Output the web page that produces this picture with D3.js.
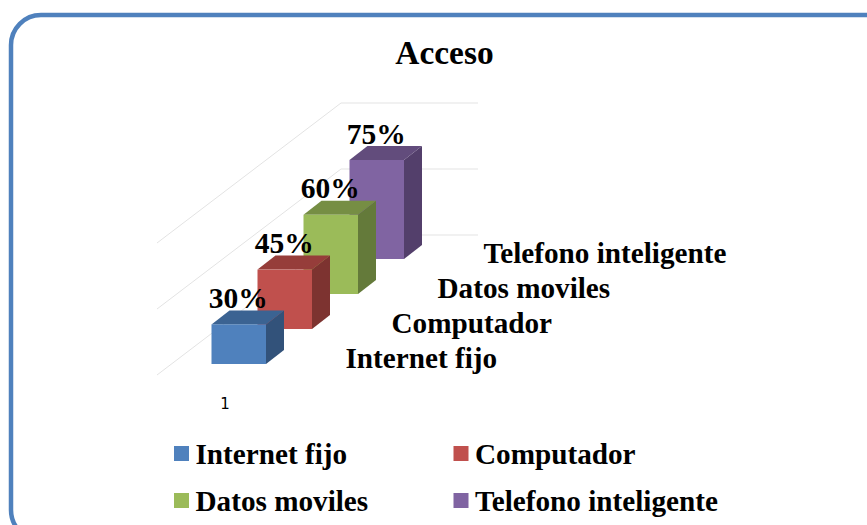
<!DOCTYPE html>
<html>
<head>
<meta charset="utf-8">
<script src="https://cdnjs.cloudflare.com/ajax/libs/d3/7.8.5/d3.min.js"></script>
<style>
body { margin: 0; background: white; }
svg { display: block; }
text { font-family: "Liberation Serif", serif; font-weight: bold; fill: black; }
</style>
</head>
<body>
<svg></svg>
<script>
var categories = ["Internet fijo", "Computador", "Datos moviles", "Telefono inteligente"];
var values = [0.30, 0.45, 0.60, 0.75];
var gridTicks = [0, 0.5, 1];
var axisLabels = ["1"];

var frontColors = ["#4f81bd", "#c0504d", "#9bbb59", "#8064a2"];
var topColors = ["#3b6392", "#963d3a", "#768e44", "#624c7c"];
var sideColors = ["#32527a", "#7d3330", "#647a3a", "#533f6b"];

var screen = {width: 867, height: 525};
var barWidth = 54.5;
var depth = {x: 18, y: 14};

var svg = d3.select("svg")
    .attr("width", screen.width)
    .attr("height", screen.height);

// series go back into the picture, so x and y both move with the index
var xSeries = d3.scaleLinear().domain([0, 3]).range([211.5, 349.5]);
var ySeries = d3.scaleLinear().domain([0, 3]).range([364, 259]);
var hScale = d3.scaleLinear().domain([0, 1]).range([0, 132]);

var color = function(arr){
    return d3.scaleOrdinal().domain(categories).range(arr);
}
var cFront = color(frontColors), cTop = color(topColors), cSide = color(sideColors);

svg.append("rect")
    .attr("x", 11)
    .attr("y", 15)
    .attr("width", 950)
    .attr("height", 525)
    .attr("rx", 30)
    .attr("fill", "white")
    .attr("stroke", "#4f81bd")
    .attr("stroke-width", 4.5);

svg.append("text")
    .attr("x", 444.5)
    .attr("y", 64)
    .attr("text-anchor", "middle")
    .attr("font-size", 33.4)
    .text("Acceso");

// wall and floor lines
var wall = {x0: 157, x1: 341, x2: 478, yBase: 375, slant: 140};
var grid = svg.append("g").selectAll("path")
    .data(gridTicks)
    .enter()
    .append("path")
    .attr("fill", "none")
    .attr("stroke", "#e3e3e3")
    .attr("stroke-width", 1)
    .attr("d", function(t){
        var y = wall.yBase - hScale(t);
        return d3.line()([[wall.x0, y], [wall.x1, y - wall.slant], [wall.x2, y - wall.slant]]);
    });

var rows = categories.map(function(c, i){
    return {name: c, value: values[i], i: i};
});

// back to front so the near bars cover the far ones
var bars = svg.append("g").selectAll("g")
    .data(rows.slice().reverse())
    .enter()
    .append("g");

var line = d3.line();

bars.append("path")
    .attr("fill", function(d){ return cSide(d.name); })
    .attr("d", function(d){
        var x = xSeries(d.i) + barWidth, y = ySeries(d.i), h = hScale(d.value);
        return line([[x, y], [x, y - h], [x + depth.x, y - h - depth.y], [x + depth.x, y - depth.y]]) + "Z";
    });

bars.append("path")
    .attr("fill", function(d){ return cTop(d.name); })
    .attr("d", function(d){
        var x = xSeries(d.i), y = ySeries(d.i) - hScale(d.value);
        return line([[x, y], [x + barWidth, y], [x + barWidth + depth.x, y - depth.y], [x + depth.x, y - depth.y]]) + "Z";
    });

bars.append("rect")
    .attr("x", function(d){ return xSeries(d.i); })
    .attr("y", function(d){ return ySeries(d.i) - hScale(d.value); })
    .attr("width", barWidth)
    .attr("height", function(d){ return hScale(d.value); })
    .attr("fill", function(d){ return cFront(d.name); });

// value labels
svg.append("g").selectAll("text")
    .data(rows)
    .enter()
    .append("text")
    .attr("x", function(d){ return xSeries(d.i) + barWidth / 2 - 0.5; })
    .attr("y", function(d){ return ySeries(d.i) - hScale(d.value) - 16.5; })
    .attr("text-anchor", "middle")
    .attr("font-size", 29.5)
    .text(function(d){ return d3.format(".0%")(d.value); });

// series labels on the depth axis
svg.append("g").selectAll("text")
    .data(rows)
    .enter()
    .append("text")
    .attr("x", function(d){ return xSeries(d.i) + 134; })
    .attr("y", function(d){ return ySeries(d.i) + 3.5; })
    .attr("font-size", 29.2)
    .text(function(d){ return d.name; });

svg.append("g").selectAll("text")
    .data(axisLabels)
    .enter()
    .append("text")
    .attr("x", 225)
    .attr("y", 409)
    .attr("text-anchor", "middle")
    .style("font-family", "'DejaVu Sans', sans-serif")
    .style("font-weight", "normal")
    .style("font-size", "15px")
    .text(function(d){ return d; });

// legend, two rows of two
var legend = svg.append("g").selectAll("g")
    .data(rows)
    .enter()
    .append("g")
    .attr("transform", function(d){
        return "translate(" + (174 + (d.i % 2) * 279.5) + "," + (446 + Math.floor(d.i / 2) * 47) + ")";
    });

legend.append("rect")
    .attr("width", 15)
    .attr("height", 15)
    .attr("fill", function(d){ return cFront(d.name); });

legend.append("text")
    .attr("x", 21.5)
    .attr("y", 17.5)
    .attr("font-size", 29.2)
    .text(function(d){ return d.name; });
</script>
</body>
</html>
